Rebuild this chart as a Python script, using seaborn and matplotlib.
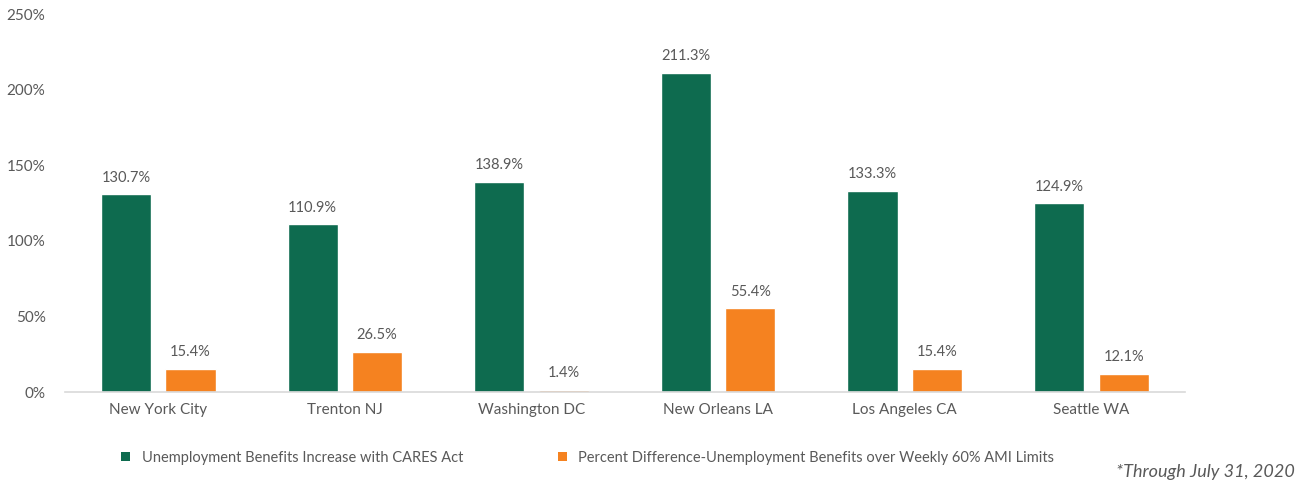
import matplotlib
matplotlib.use("Agg")
import matplotlib.pyplot as plt
import seaborn as sns
import pandas as pd
from matplotlib.patches import Patch

cities = ["New York City", "Trenton NJ", "Washington DC", "New Orleans LA", "Los Angeles CA", "Seattle WA"]
cares_increase = [130.7, 110.9, 138.9, 211.3, 133.3, 124.9]
ami_difference = [15.4, 26.5, 1.4, 55.4, 15.4, 12.1]
series_names = ["Unemployment Benefits Increase with CARES Act",
                "Percent Difference-Unemployment Benefits over Weekly 60% AMI Limits"]
y_ticks = [0, 50, 100, 150, 200, 250]

df = pd.DataFrame({
    "city": cities * 2,
    "value": cares_increase + ami_difference,
    "series": [series_names[0]] * len(cities) + [series_names[1]] * len(cities),
})

sns.set_theme(style="white")
plt.rcParams["font.family"] = ["Lato", "DejaVu Sans"]
gray = "#595959"
colors = ["#0E6B4F", "#F58220"]

fig = plt.figure(figsize=(13.12, 4.87), dpi=100)
ax = fig.add_axes([0.0495, 0.195, 0.8535, 0.776])
sns.barplot(data=df, x="city", y="value", hue="series", palette=colors,
            width=0.69, gap=0.22, ax=ax, legend=False, saturation=1)

for cont in ax.containers:
    ax.bar_label(cont, labels=[f"{v:.1f}%" for v in cont.datavalues],
                 padding=7, fontsize=10.5, color=gray)

ax.set_ylim(0, 250)
ax.set_yticks(y_ticks)
ax.set_yticklabels([f"{t}%" for t in y_ticks])
ax.set_xlim(-0.5, len(cities) - 0.5)
ax.set_xlabel("")
ax.set_ylabel("")
ax.tick_params(axis="both", colors=gray, labelsize=11, length=0)
ax.tick_params(axis="y", pad=14)
ax.tick_params(axis="x", pad=8)
for s in ["top", "right", "left"]:
    ax.spines[s].set_visible(False)
ax.spines["bottom"].set_color("#D9D9D9")
ax.spines["bottom"].set_linewidth(1.2)

handles = [Patch(facecolor=c, edgecolor="none") for c in colors]
fig.legend(handles, series_names, loc="center", bbox_to_anchor=(0.448, 0.06),
           ncol=2, frameon=False, fontsize=10.5, labelcolor=gray,
           handlelength=0.6, handleheight=0.6, columnspacing=6.5, handletextpad=0.8)

fig.text(0.987, 0.03, "*Through July 31, 2020", ha="right", va="center",
         fontsize=13, style="italic", color=gray)

fig.savefig("out.png", dpi=100)
